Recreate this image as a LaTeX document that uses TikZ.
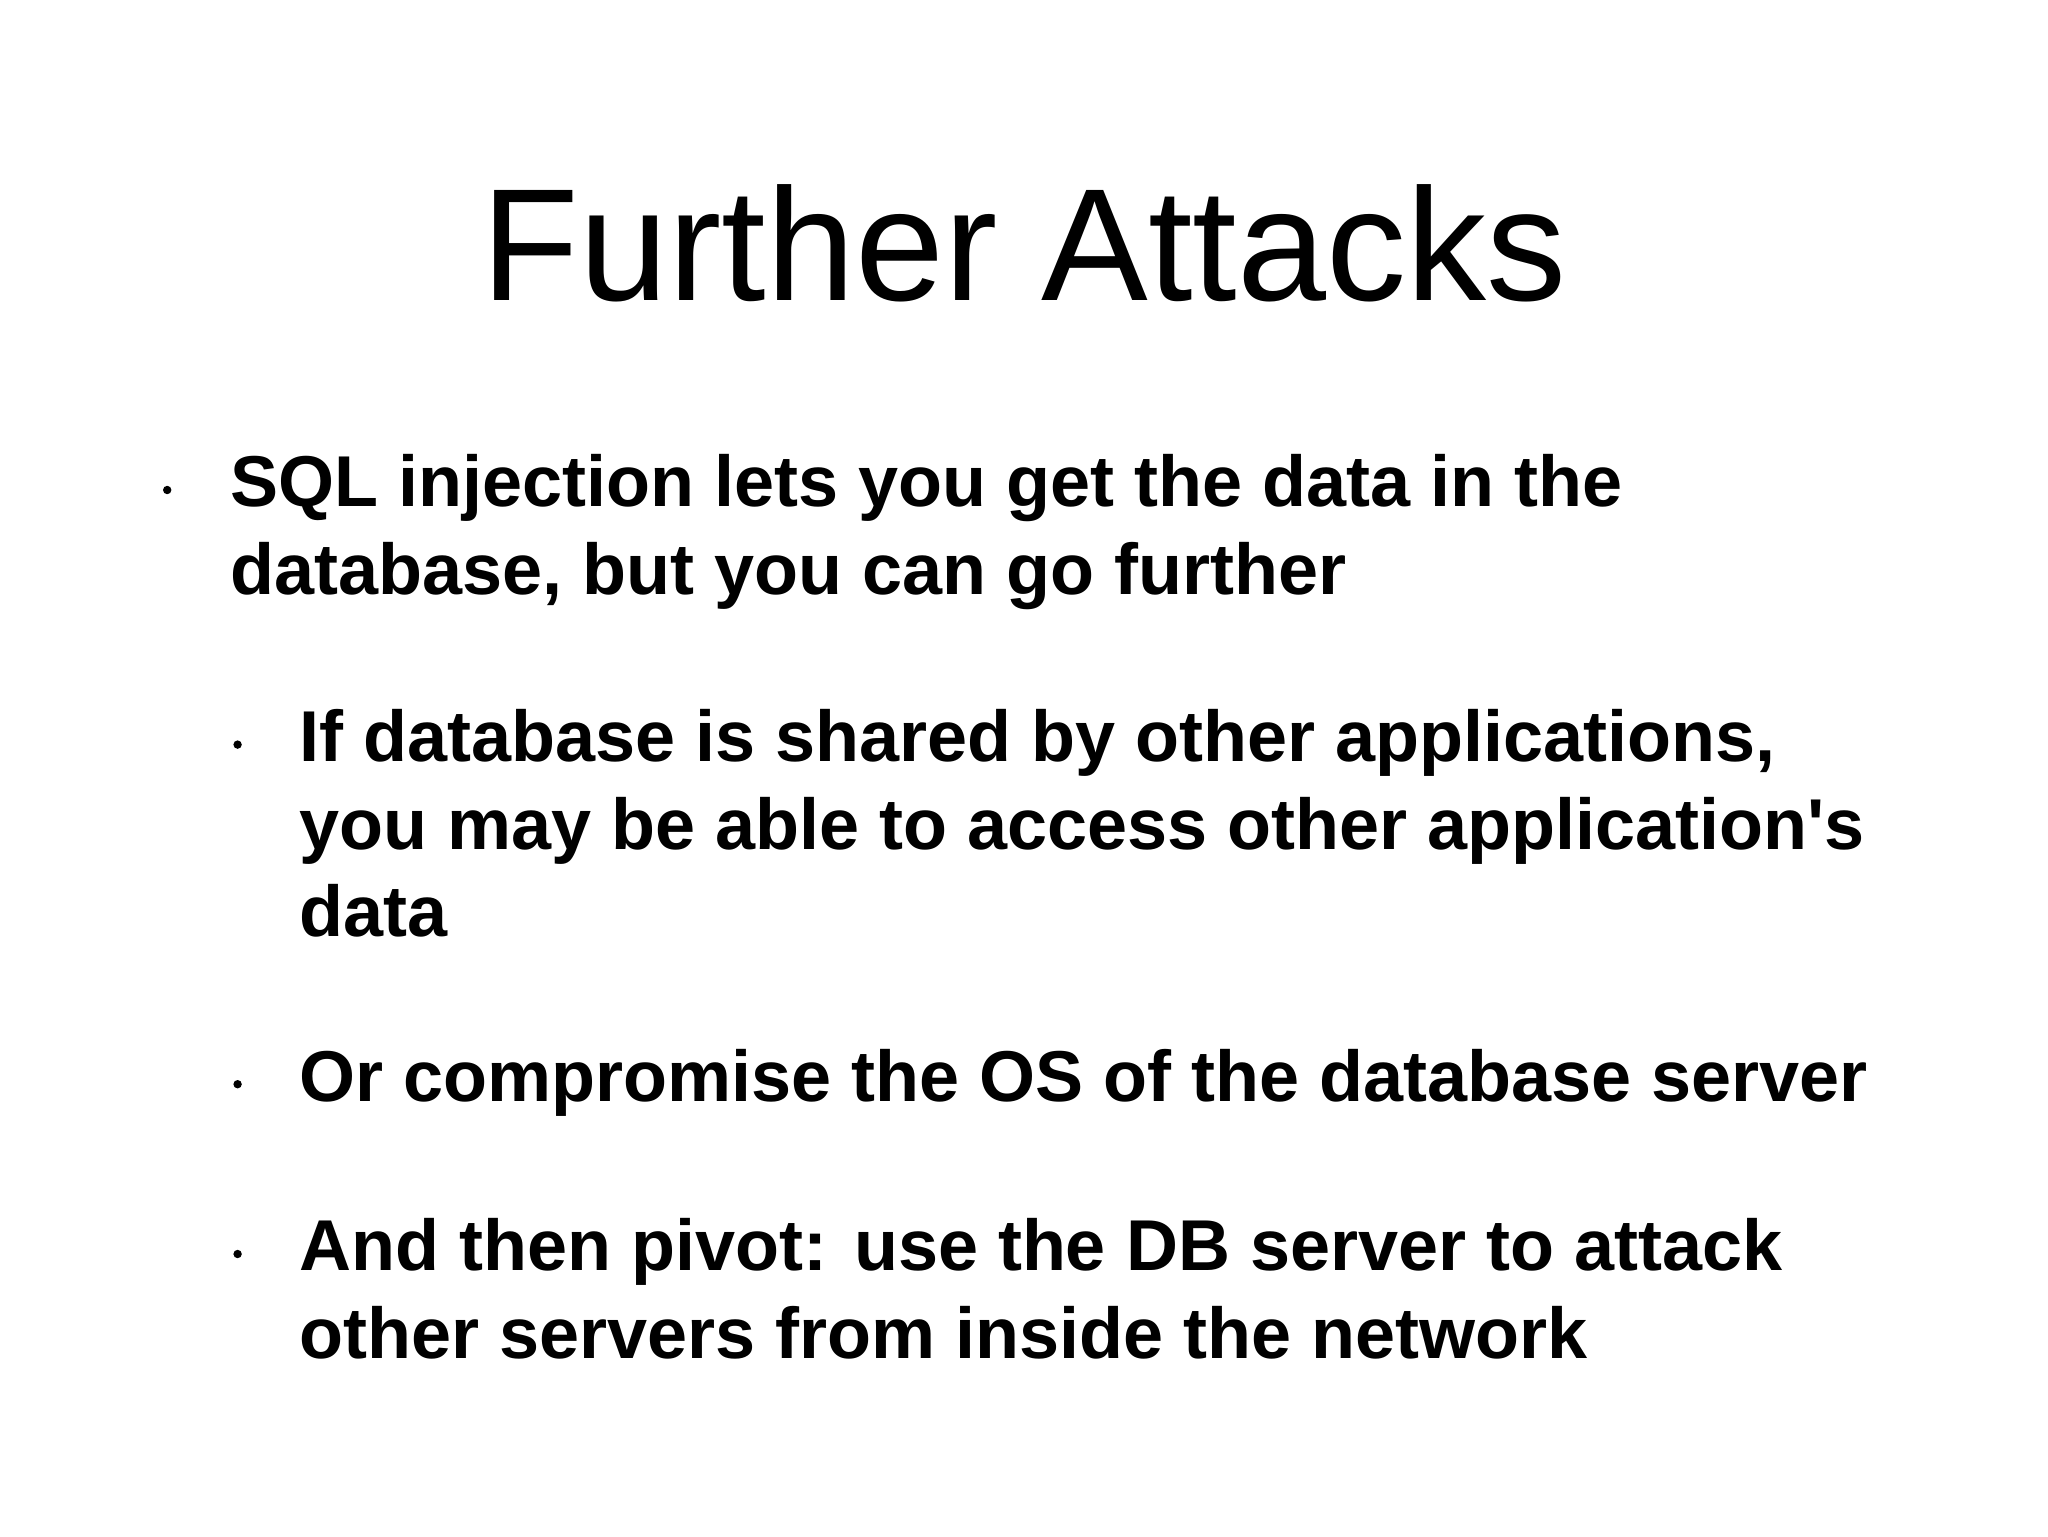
\documentclass[tikz,border=0pt]{standalone}
\usepackage{fontspec}
\setmainfont{Liberation Sans}[Ligatures=TeXOff]
\begin{document}
\begin{tikzpicture}[x=1pt,y=1pt,
  txt/.style={anchor=base west,inner sep=0pt,font=\fontsize{36}{43.8}\selectfont\bfseries},
  dot/.style={circle,fill=black,inner sep=0pt,minimum size=4.2pt}]
\useasboundingbox[fill=white] (0,0) rectangle (1024,-768);
\node[anchor=base,inner sep=0pt,font=\fontsize{80}{90}\selectfont] (title) at (512,-150.2) {Further Attacks};
\node[dot] (d1) at (83.6,-245) {};
\node[txt] (t1a) at (114.9,-253.4) {SQL injection lets you get the data in the};
\node[txt] (t1b) at (114.9,-297.2) {database, but you can go further};
\node[dot] (d2) at (118.8,-372.3) {};
\node[txt] (t2a) at (149.5,-380.7) {If database is shared by other applications,};
\node[txt] (t2b) at (149.5,-424.5) {you may be able to access other application's};
\node[txt] (t2c) at (149.5,-468.3) {data};
\node[dot] (d3) at (118.8,-542.1) {};
\node[txt] (t3) at (149.5,-550.5) {Or compromise the OS of the database server};
\node[dot] (d4) at (118.8,-627) {};
\node[txt] (t4a) at (149.5,-635.4) {And then pivot: use the DB server to attack};
\node[txt] (t4b) at (149.5,-679.2) {other servers from inside the network};
\end{tikzpicture}
\end{document}
